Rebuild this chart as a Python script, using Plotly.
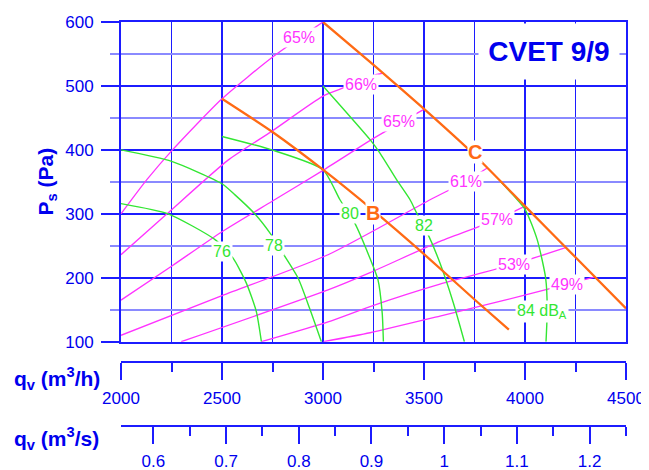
import plotly.graph_objects as go

# ---------------- data ----------------
qh_ticks = [2000, 2500, 3000, 3500, 4000, 4500]          # m3/h
qs_ticks = [0.6, 0.7, 0.8, 0.9, 1.0, 1.1, 1.2]           # m3/s
qs_ticktext = ["0.6", "0.7", "0.8", "0.9", "1", "1.1", "1.2"]
p_ticks = [100, 200, 300, 400, 500, 600]                 # Pa

# fan curves
q_fan_B = [2500, 2750, 3000, 3250, 3500, 3750, 3920]
p_fan_B = [480, 428, 369, 305, 237, 166, 119]
q_fan_C = [3000, 3250, 3500, 3750, 4000, 4250, 4500]
p_fan_C = [600, 533, 464, 392, 312, 232, 152]

# efficiency lines
q_eff65a = [2000, 2127, 2255, 2500, 2754, 3000]
p_eff65a = [300, 353, 400, 480, 546, 600]
q_eff66 = [2000, 2228, 2530, 2746, 3000, 3110, 3266, 3300]
p_eff66 = [236, 300, 384, 429, 484, 498, 518, 520]
q_eff65b = [2000, 2250, 2500, 2750, 3000, 3250, 3497]
p_eff65b = [165, 218, 272, 320, 368, 418, 463]
q_eff61 = [2000, 2500, 3025, 3530, 3709, 3815]
p_eff61 = [110, 172, 236, 322, 351, 372]
q_eff57 = [2298, 3025, 3233, 3579, 3861, 4000]
p_eff57 = [100, 181, 208, 257, 291, 312]
q_eff53 = [2695, 3025, 3233, 3579, 3944, 4201]
p_eff53 = [100, 131, 155, 190, 221, 247]
q_eff49 = [3002, 3233, 3579, 3900, 4210, 4342]
p_eff49 = [100, 114, 140, 165, 190, 201]
eff_labels = ["65%", "66%", "65%", "61%", "57%", "53%", "49%"]
eff_label_q = [2881, 3188, 3376, 3709, 3861, 3944, 4210]
eff_label_p = [575, 502, 444, 351, 291, 221, 190]

# sound level lines
q_snd76 = [2000, 2233, 2464, 2554, 2620, 2670, 2695]
p_snd76 = [316, 300, 260, 231, 192, 147, 100]
q_snd78 = [2000, 2251, 2500, 2563, 2662, 2744, 2802, 2876, 2934, 2992]
p_snd78 = [400, 382, 347, 330, 300, 267, 238, 200, 152, 100]
q_snd80 = [2500, 2746, 3000, 3084, 3158, 3233, 3272, 3293, 3299]
p_snd80 = [421, 400, 369, 322, 285, 230, 197, 145, 100]
q_snd82 = [3000, 3233, 3282, 3365, 3431, 3464, 3521, 3579, 3645, 3700]
p_snd82 = [500, 416, 395, 353, 322, 301, 267, 223, 161, 100]
q_snd84 = [3880, 4000, 4060, 4102, 4110, 4104]
p_snd84 = [350, 307, 260, 200, 150, 100]
snd_labels = ["76", "78", "80", "82", "84 dB<sub>A</sub>"]
snd_label_q = [2500, 2755, 3134, 3502, 4083]
snd_label_p = [241, 251, 301, 282, 147]

fan_labels = ["B", "C"]
fan_label_q = [3248, 3750]
fan_label_p = [301, 396]

# ---------------- styling ----------------
BLUE = "#1c1cff"
LIGHT = "#8a8aff"
TXT = "#0000ee"
MAG = "#ff33ff"
GRN = "#33e633"
ORG = "#ff6a14"
FONT = "Arial, Liberation Sans, sans-serif"

# the page body has an 8px margin: the figure is sized/offset to compensate
OFF = 8
W, HGT = 649 - OFF, 470 - OFF

fig = go.Figure()

eff_series = [(q_eff65a, p_eff65a), (q_eff66, p_eff66), (q_eff65b, p_eff65b),
              (q_eff61, p_eff61), (q_eff57, p_eff57), (q_eff53, p_eff53),
              (q_eff49, p_eff49)]
for q, p in eff_series:
    fig.add_trace(go.Scatter(x=q, y=p, mode="lines",
                             line=dict(color=MAG, width=1.3, shape="spline", smoothing=0.6),
                             hoverinfo="skip"))

snd_series = [(q_snd76, p_snd76), (q_snd78, p_snd78), (q_snd80, p_snd80),
              (q_snd82, p_snd82), (q_snd84, p_snd84)]
for q, p in snd_series:
    fig.add_trace(go.Scatter(x=q, y=p, mode="lines",
                             line=dict(color=GRN, width=1.4, shape="spline", smoothing=0.6),
                             hoverinfo="skip"))

for q, p in [(q_fan_B, p_fan_B), (q_fan_C, p_fan_C)]:
    fig.add_trace(go.Scatter(x=q, y=p, mode="lines",
                             line=dict(color=ORG, width=2.3, shape="spline", smoothing=0.6),
                             hoverinfo="skip"))

# invisible traces to attach the two bottom scales
fig.add_trace(go.Scatter(x=qh_ticks, y=[None] * len(qh_ticks), xaxis="x2", yaxis="y",
                         mode="markers", marker=dict(opacity=0), hoverinfo="skip"))
fig.add_trace(go.Scatter(x=qs_ticks, y=[None] * len(qs_ticks), xaxis="x3", yaxis="y",
                         mode="markers", marker=dict(opacity=0), hoverinfo="skip"))

ann = []
for t, q, p in zip(eff_labels, eff_label_q, eff_label_p):
    ann.append(dict(text=t, x=q, y=p, xref="x", yref="y", showarrow=False,
                    font=dict(family=FONT, size=16, color=MAG), bgcolor="white", borderpad=1))
for t, q, p in zip(snd_labels, snd_label_q, snd_label_p):
    ann.append(dict(text=t, x=q, y=p, xref="x", yref="y", showarrow=False,
                    font=dict(family=FONT, size=16, color=GRN), bgcolor="white", borderpad=1))
for t, q, p in zip(fan_labels, fan_label_q, fan_label_p):
    ann.append(dict(text="<b>%s</b>" % t, x=q, y=p, xref="x", yref="y", showarrow=False,
                    font=dict(family=FONT, size=20, color=ORG), bgcolor="white", borderpad=0))

ann.append(dict(text="<b>CVET 9/9</b>", x=4119, y=554, xref="x", yref="y", showarrow=False,
                font=dict(family=FONT, size=28, color=TXT), bgcolor="white",
                width=138, height=53))

H = 448.0
def py2paper(py):
    # py = screen pixel row
    return (470 - py) / H

ann.append(dict(text="<b>P<sub>s</sub> (Pa)</b>", textangle=-90, x=(46 - 121) / 505.0,
                y=py2paper(181.5), xref="paper", yref="paper", showarrow=False,
                xanchor="center", yanchor="middle",
                font=dict(family=FONT, size=21, color=TXT)))
ann.append(dict(text="<b>q<sub>v</sub> (m<sup>3</sup>/h)</b>", x=(12 - 121) / 505.0,
                y=py2paper(378), xref="paper", yref="paper", showarrow=False,
                xanchor="left", yanchor="middle",
                font=dict(family=FONT, size=21, color=TXT)))
ann.append(dict(text="<b>q<sub>v</sub> (m<sup>3</sup>/s)</b>", x=(12 - 121) / 505.0,
                y=py2paper(438), xref="paper", yref="paper", showarrow=False,
                xanchor="left", yanchor="middle",
                font=dict(family=FONT, size=21, color=TXT)))

tickfont = dict(family=FONT, size=17, color=TXT)

fig.update_layout(
    width=W, height=HGT, autosize=False,
    margin=dict(l=121 - OFF, r=23, t=22 - OFF, b=0, pad=0, autoexpand=False),
    plot_bgcolor="white", paper_bgcolor="white",
    showlegend=False,
    annotations=ann,
    xaxis=dict(range=[2000, 4500], domain=[0, 1], tickmode="array", tickvals=qh_ticks,
               automargin=False,
               showticklabels=False, ticks="", showgrid=True, gridcolor=BLUE, gridwidth=2,
               minor=dict(dtick=250, tick0=2000, showgrid=True, gridcolor=BLUE, gridwidth=1.3),
               showline=True, mirror=True, linecolor=BLUE, linewidth=2, zeroline=False),
    yaxis=dict(range=[100, 600], domain=[py2paper(341.7), 1], tickmode="array", tickvals=p_ticks,
               automargin=False,
               ticks="outside", ticklen=18, tickwidth=2, tickcolor=BLUE, tickfont=tickfont,
               ticklabelstandoff=4,
               showgrid=True, gridcolor=BLUE, gridwidth=2,
               minor=dict(dtick=50, tick0=50, ticks="outside", ticklen=9, tickwidth=2,
                          tickcolor=LIGHT, showgrid=True, gridcolor=LIGHT, gridwidth=2),
               showline=True, mirror=True, linecolor=BLUE, linewidth=2, zeroline=False),
    xaxis2=dict(range=[2000, 4500], overlaying="x", anchor="free", position=py2paper(362),
                automargin=False,
                side="bottom", tickmode="array", tickvals=qh_ticks,
                ticks="outside", ticklen=17, tickwidth=2, tickcolor=BLUE, tickfont=tickfont,
                ticklabelstandoff=4,
                minor=dict(dtick=250, tick0=2000, ticks="outside", ticklen=9, tickwidth=1.5,
                           tickcolor=BLUE, showgrid=False),
                showline=True, linecolor=BLUE, linewidth=2, showgrid=False, zeroline=False),
    xaxis3=dict(range=[2000 / 3600.0, 4500 / 3600.0], overlaying="x", anchor="free",
                automargin=False,
                position=py2paper(425.7), side="bottom", tickmode="array",
                tickvals=qs_ticks, ticktext=qs_ticktext,
                ticks="outside", ticklen=17, tickwidth=2, tickcolor=BLUE, tickfont=tickfont,
                ticklabelstandoff=3,
                minor=dict(dtick=0.05, tick0=0.55, ticks="outside", ticklen=9, tickwidth=1.5,
                           tickcolor=BLUE, showgrid=False),
                showline=True, linecolor=BLUE, linewidth=2, showgrid=False, zeroline=False),
)

fig.write_html("out.html")
